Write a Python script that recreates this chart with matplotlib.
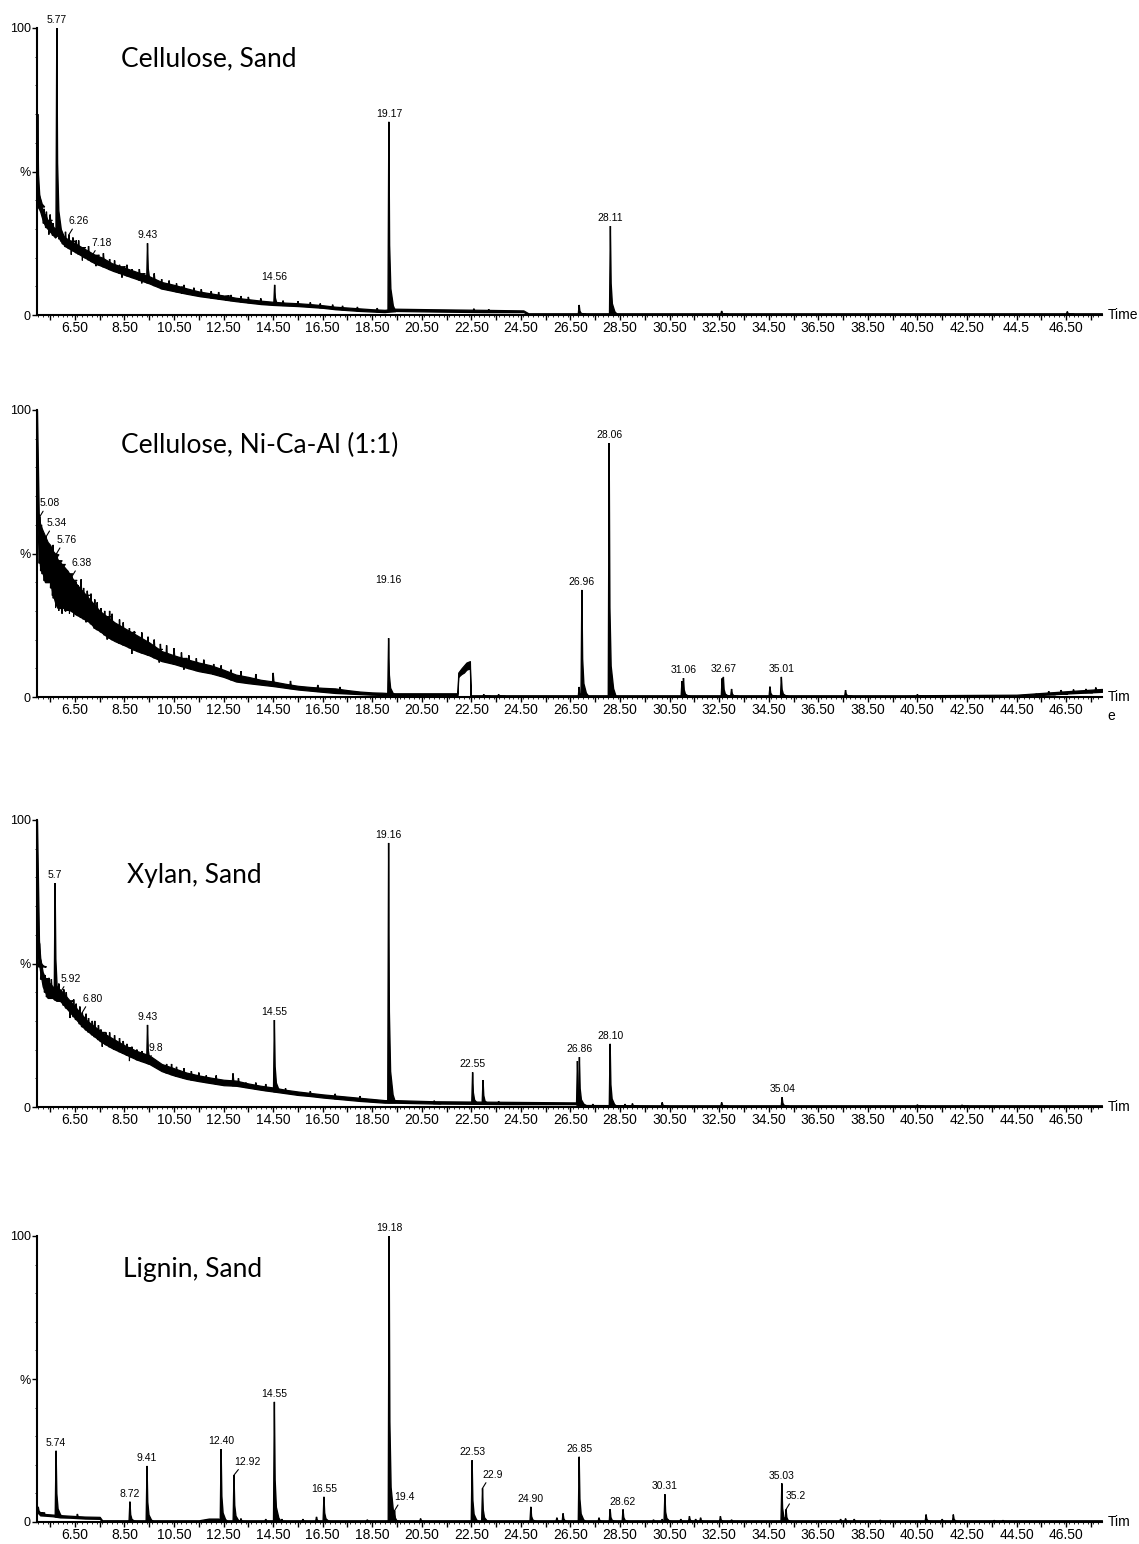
import matplotlib.pyplot as plt
import numpy as np

plt.rcParams['font.family'] = ['Liberation Sans', 'DejaVu Sans']

# ---------------- data (retention time in min, intensity in %) ----------------
XLAB = ['6.50', '8.50', '10.50', '12.50', '14.50', '16.50', '18.50', '20.50', '22.50', '24.50',
        '26.50', '28.50', '30.50', '32.50', '34.50', '36.50', '38.50', '40.50', '42.50', '44.50', '46.50']
XLAB_TOP = XLAB[:19] + ['44.5', '46.50']

# Cellulose, Sand : noise band (lower / upper) and peaks (apex time, apex height)
bt1 = [4.97, 5.05, 5.1, 5.2, 5.3, 5.4, 5.5, 5.6, 5.7, 5.82, 5.9, 6.0, 6.1, 6.3, 6.5, 6.7, 6.9, 7.1, 7.3,
       7.6, 8.0, 8.5, 9.0, 9.5, 10.0, 10.5, 11.0, 11.5, 12.0, 12.5, 13.0, 13.5, 14.0, 14.5, 15.0, 15.5,
       16.0, 16.5, 17.0, 17.5, 18.0, 18.5, 19.0, 19.4, 21.0, 23.0, 24.6, 24.8, 30.0, 40.0, 47.95]
up1 = [45, 42, 40, 36, 35, 33, 33, 31, 30, 32, 30, 28, 27, 26, 25, 24, 23, 22, 21,
       20, 18, 16.5, 15, 13.5, 11.5, 10.5, 9.3, 8.2, 7.5, 6.8, 6.0, 5.5, 5.0, 4.6, 4.3, 4.1,
       3.8, 3.4, 2.9, 2.6, 2.3, 2.0, 1.8, 2.2, 2.0, 1.8, 1.6, 0.6, 0.6, 0.6, 0.6]
lo1 = [38, 37, 36, 33, 31, 30, 29, 28, 27, 28, 26, 25, 24, 23, 22, 21, 20, 19, 18,
       17, 15.5, 14, 12.5, 11, 9.2, 8.3, 7.4, 6.6, 6.0, 5.4, 4.8, 4.3, 3.8, 3.5, 3.3, 3.1,
       2.8, 2.5, 2.0, 1.7, 1.4, 1.2, 1.0, 1.4, 1.2, 1.0, 1.0, 0.2, 0.2, 0.2, 0.2]
rt1 = [5.0, 5.25, 5.35, 5.45, 5.5, 5.62, 5.77, 5.88, 6.02, 6.12, 6.26, 6.35, 6.42, 6.55, 6.65, 6.8,
       6.9, 7.05, 7.18, 7.35, 7.45, 7.65, 7.9, 8.1, 8.3, 8.4, 8.6, 8.8, 9.1, 9.2, 9.43, 9.7, 10.0,
       10.3, 10.6, 10.8, 10.9, 11.3, 11.6, 12.0, 12.3, 12.6, 12.8, 13.2, 13.5, 14.0, 14.56, 14.9,
       15.5, 16.0, 16.4, 16.9, 17.3, 17.9, 18.7, 19.17, 22.6, 23.2, 26.85, 28.11, 32.6, 46.55]
h1 = [70, 37, 36, 28, 35, 32, 100, 31, 28, 29, 28, 21, 27, 26, 26, 19,
      23, 24, 20.5, 17, 20, 21.5, 19.5, 19, 17.5, 13, 17.5, 16, 16, 11, 25, 14.5, 12.5,
      12, 11, 7.5, 10.5, 9.5, 9, 8.3, 8, 5.0, 7, 6.6, 6.3, 5.8, 10.5, 5,
      4.8, 4.4, 4.0, 3.6, 3.2, 2.8, 2.4, 67.3, 2.2, 2.0, 3.5, 31, 1.4, 1.2]
lab1_rt = [5.77, 6.26, 7.18, 9.43, 14.56, 19.17, 28.11]
lab1_txt = ['5.77', '6.26', '7.18', '9.43', '14.56', '19.17', '28.11']

# Cellulose, Ni-Ca-Al (1:1)
bt2 = [4.97, 5.04, 5.1, 5.2, 5.3, 5.4, 5.5, 5.6, 5.7, 5.8, 5.9, 6.0, 6.1, 6.2, 6.35, 6.5, 6.7, 6.9,
       7.1, 7.3, 7.5, 7.8, 8.1, 8.5, 9.0, 9.5, 10.0, 10.5, 11.0, 11.5, 12.0, 12.5, 13.0, 13.5, 14.0,
       14.5, 15.0, 15.5, 16.0, 16.5, 17.0, 17.5, 18.0, 18.5, 18.9, 19.3, 21.9, 21.94, 21.97, 22.1,
       22.2, 22.3, 22.44, 22.47, 25.0, 30.0, 40.0, 44.5, 45.5, 46.5, 47.95]
up2 = [100, 64, 60, 58, 56, 54, 53, 51, 50, 48, 47, 46, 45, 44, 42, 40, 38, 36,
       34, 32, 30, 28, 26, 24, 21.5, 19, 16, 14.5, 13.2, 12, 11, 9.5, 7.8, 7, 6,
       5.4, 4.6, 3.9, 3.5, 3.2, 3.0, 2.4, 1.9, 1.6, 1.5, 1.3, 1.3, 1.3, 8.5, 10,
       11, 12, 12.5, 0.6, 0.6, 0.6, 0.6, 0.8, 1.4, 2.0, 2.8]
lo2 = [62, 50, 45, 43, 40, 40, 40, 36, 33, 31, 31, 32, 30, 31, 30, 29, 28, 27,
       26, 24, 23, 21, 19.5, 18, 16, 14.5, 12.5, 11.5, 10.2, 9, 8.2, 7, 5.4, 4.8, 4.3,
       3.8, 3.2, 2.6, 2.2, 1.8, 1.4, 1.2, 1.0, 0.8, 0.7, 0.7, 0.7, 0.3, 7, 8,
       8.5, 9.5, 10, 0.2, 0.2, 0.2, 0.2, 0.3, 0.7, 1.2, 1.8]
rt2 = [5.08, 5.15, 5.2, 5.28, 5.34, 5.45, 5.5, 5.55, 5.62, 5.65, 5.72, 5.76, 5.85, 5.9, 5.98, 6.05,
       6.12, 6.2, 6.28, 6.38, 6.45, 6.55, 6.62, 6.75, 6.85, 6.95, 7.0, 7.15, 7.3, 7.4, 7.55, 7.7,
       7.8, 7.9, 8.0, 8.3, 8.45, 8.7, 8.8, 8.9, 9.2, 9.45, 9.7, 9.9, 9.95, 10.2, 10.5, 10.8, 10.9,
       11.1, 11.4, 11.7, 12.1, 12.4, 12.8, 13.2, 13.8, 14.5, 15.2, 16.3, 17.2, 19.16, 23.0, 23.6,
       26.85, 26.96, 28.06, 31.0, 31.06, 32.62, 32.67, 33.0, 34.55, 35.01, 37.6, 40.5, 45.3,
       45.8, 46.3, 46.8, 47.3, 47.7]
h2 = [62.8, 60, 57, 54, 55.9, 50, 51, 52, 53, 49, 31, 50, 30, 46, 29, 45,
      44, 44, 29, 42, 28, 40, 39, 41, 38, 26, 37, 36, 34, 33, 31, 30,
      20, 30, 29, 27, 26, 24, 15, 23, 22.5, 21, 20, 12, 18.5, 18, 17, 15.5, 9.5,
      14.5, 13.5, 13, 11.5, 11, 9.5, 9, 8, 8.4, 5.6, 4.2, 3.5, 20.5, 0.9, 0.9,
      3.5, 37.3, 88.5, 5.5, 6.6, 6.5, 7.0, 2.8, 3.6, 7.0, 2.4, 0.9, 1.1,
      2.0, 2.4, 2.6, 2.8, 3.3]
lab2_rt = [5.08, 5.34, 5.76, 6.38, 19.16, 26.96, 28.06, 31.06, 32.67, 35.01]
lab2_txt = ['5.08', '5.34', '5.76', '6.38', '19.16', '26.96', '28.06', '31.06', '32.67', '35.01']

# Xylan, Sand
bt3 = [4.97, 5.05, 5.1, 5.2, 5.3, 5.4, 5.5, 5.6, 5.75, 5.9, 6.0, 6.2, 6.4, 6.6, 6.8, 7.0, 7.3, 7.6,
       8.0, 8.5, 9.0, 9.5, 10.0, 10.5, 11.0, 11.5, 12.0, 12.5, 13.0, 13.5, 14.0, 14.5, 15.0, 15.5,
       16.0, 16.5, 17.0, 17.5, 18.0, 18.5, 19.0, 19.4, 21.0, 24.0, 26.7, 26.95, 30.0, 40.0, 47.95]
up3 = [100, 58, 52, 47, 45, 44, 43, 42, 41, 41, 40, 38, 36, 34, 32, 30, 28, 26,
       24, 21.5, 19.5, 18, 15, 13.5, 12, 11, 10.2, 9.5, 9.2, 8.2, 7.4, 6.8, 6.0, 5.4,
       4.9, 4.4, 4.0, 3.6, 3.2, 2.8, 2.4, 2.4, 2.0, 1.8, 1.6, 0.7, 0.6, 0.6, 0.6]
lo3 = [55, 50, 47, 42, 40, 38, 38, 38, 37, 37, 36, 34, 32, 30, 28, 26.5, 24.5, 22.5,
       20.5, 18.5, 16.5, 15, 12.5, 11, 9.8, 9, 8.3, 7.6, 7.4, 6.7, 6.0, 5.4, 4.8, 4.2,
       3.8, 3.3, 2.9, 2.5, 2.1, 1.8, 1.5, 1.5, 1.2, 1.0, 1.0, 0.2, 0.2, 0.2, 0.2]
rt3 = [5.07, 5.15, 5.3, 5.38, 5.45, 5.55, 5.7, 5.85, 5.92, 6.05, 6.15, 6.3, 6.45, 6.55, 6.7, 6.8,
       6.95, 7.05, 7.2, 7.3, 7.45, 7.55, 7.6, 7.75, 7.9, 8.1, 8.3, 8.45, 8.6, 8.7, 8.8, 9.0, 9.2,
       9.43, 9.48, 10.2, 10.4, 10.6, 10.9, 11.2, 11.5, 11.8, 12.2, 12.88, 13.1, 13.4, 13.8, 14.2,
       14.55, 15.0, 15.5, 16.0, 17.0, 18.0, 19.16, 21.0, 22.55, 22.97, 23.6, 26.78, 26.86, 27.4,
       28.1, 28.7, 29.0, 30.2, 32.6, 35.04, 40.5, 42.3]
h3 = [57, 50, 46, 44, 45, 44.5, 78, 43, 40, 41, 40, 31, 37.5, 36, 35, 33,
      32.5, 31, 30, 30, 28.5, 27, 21, 26, 26, 25, 24, 23, 22, 16, 21, 20, 19.5,
      28.6, 16, 15, 15, 14, 13.5, 12.5, 12, 11, 11, 11.7, 10, 8.5, 8.5, 8,
      30.3, 6.5, 5.0, 5.5, 4.6, 3.8, 92, 2.2, 12.1, 9.4, 2.0, 16, 17.4, 1.0,
      22, 1.0, 1.2, 1.6, 1.6, 3.4, 0.8, 0.7]
lab3_rt = [5.7, 5.92, 6.8, 9.43, 9.48, 14.55, 19.16, 22.55, 26.86, 28.1, 35.04]
lab3_txt = ['5.7', '5.92', '6.80', '9.43', '9.8', '14.55', '19.16', '22.55', '26.86', '28.10', '35.04']

# Lignin, Sand
bt4 = [4.97, 5.1, 5.3, 5.6, 5.9, 6.3, 6.9, 7.5, 7.6, 11.5, 11.9, 12.3, 12.35, 47.95]
up4 = [4.5, 3.0, 2.8, 2.6, 2.4, 2.2, 1.9, 1.8, 0.6, 0.6, 1.2, 1.2, 0.6, 0.6]
lo4 = [3.5, 2.3, 2.2, 2.0, 1.6, 1.5, 1.2, 1.1, 0.1, 0.1, 0.4, 0.4, 0.1, 0.1]
rt4 = [5.02, 5.74, 6.6, 8.72, 9.41, 12.40, 12.92, 13.2, 14.2, 14.55, 14.85, 15.7, 16.25, 16.55, 18.3,
       19.18, 19.4, 20.45, 22.53, 22.95, 24.9, 25.95, 26.2, 26.85, 27.65, 28.1, 28.62, 29.85, 30.2,
       30.31, 30.95, 31.3, 31.55, 31.75, 32.55, 33.0, 35.03, 35.2, 37.4, 37.6, 37.95, 39.0, 40.85,
       41.5, 41.95, 43.6, 43.95]
h4 = [5.3, 24.9, 2.8, 7.1, 19.6, 25.5, 16.4, 1.2, 1.0, 42, 1.0, 1.0, 1.8, 8.8, 0.8,
      100, 4.0, 1.2, 21.6, 11.8, 5.3, 1.5, 3.0, 22.8, 1.5, 4.5, 4.4, 0.8, 1.0,
      9.7, 1.0, 2.0, 1.0, 1.5, 2.0, 0.8, 13.5, 4.4, 1.0, 1.2, 1.0, 0.7, 2.6,
      1.0, 2.6, 0.6, 0.6]
lab4_rt = [5.74, 8.72, 9.41, 12.40, 12.92, 14.55, 16.55, 19.18, 19.4, 22.53, 22.95, 24.9, 26.85,
           28.62, 30.31, 35.03, 35.2]
lab4_txt = ['5.74', '8.72', '9.41', '12.40', '12.92', '14.55', '16.55', '19.18', '19.4', '22.53',
            '22.9', '24.90', '26.85', '28.62', '30.31', '35.03', '35.2']

panels = [
    dict(title='Cellulose, Sand', bt=bt1, up=up1, lo=lo1, rt=rt1, h=h1, lrt=lab1_rt, ltxt=lab1_txt,
         xlab=XLAB_TOP, time='Time'),
    dict(title='Cellulose, Ni-Ca-Al (1:1)', bt=bt2, up=up2, lo=lo2, rt=rt2, h=h2, lrt=lab2_rt,
         ltxt=lab2_txt, xlab=XLAB, time='Tim'),
    dict(title='Xylan, Sand', bt=bt3, up=up3, lo=lo3, rt=rt3, h=h3, lrt=lab3_rt, ltxt=lab3_txt,
         xlab=XLAB, time='Tim'),
    dict(title='Lignin, Sand', bt=bt4, up=up4, lo=lo4, rt=rt4, h=h4, lrt=lab4_rt, ltxt=lab4_txt,
         xlab=XLAB, time='Tim'),
]

# ---------------- layout / style ----------------
W, H = 1139, 1544
X0, X1 = 37, 1102
boxes = [(28, 315), (410, 697), (820, 1107), (1236, 1522)]
title_pos = [(121, 66), (121, 453), (127, 883), (123, 1277)]
leaders = [{'6.26', '7.18'}, {'5.08', '5.34', '5.76', '6.38'}, {'5.92', '6.80', '9.8'},
           {'12.92', '19.4', '22.9', '35.2'}]
raised = [{}, {'19.16': 39}, {}, {}]

# peak outline, relative to apex (time offset, fraction of height above baseline)
DT = np.array([-0.035, 0, 0.03, 0.08, 0.18, 0.28])
FR = np.array([0, 1, 0.35, 0.12, 0.03, 0])

fig = plt.figure(figsize=(W / 100, H / 100), dpi=100)

for i, p in enumerate(panels):
    ytop, ybot = boxes[i]
    ax = fig.add_axes([X0 / W, 1 - ybot / H, (X1 - X0) / W, (ybot - ytop) / H])
    bt = np.array(p['bt'])
    lo = np.array(p['lo'])
    up = np.array(p['up'])
    ax.fill_between(bt, lo, up, color='k', lw=0.9)
    for rt, h in zip(p['rt'], p['h']):
        # spikes start from the top of the band, dips from its bottom
        base = np.interp(rt, bt, up) if h < np.interp(rt, bt, lo) else np.interp(rt, bt, lo)
        if h < np.interp(rt, bt, lo):
            ax.fill(rt + DT * 0.5, base + FR * (h - base), color='k', lw=0.8)
        else:
            ax.fill(rt + DT, base + FR * (h - base), color='k', lw=1.0)

    rts = np.array(p['rt'])
    for rt, txt in zip(p['lrt'], p['ltxt']):
        h = p['h'][int(np.argmin(np.abs(rts - rt)))]
        if txt in leaders[i]:
            ax.annotate(txt, xy=(rt, h), xytext=(0, 6), textcoords='offset points',
                        ha='left', va='bottom', fontsize=7.5,
                        arrowprops=dict(arrowstyle='-', lw=0.8, color='k', relpos=(0.25, 0),
                                        shrinkA=0, shrinkB=0))
        elif txt in raised[i]:
            ax.text(rt, raised[i][txt], txt, ha='center', va='bottom', fontsize=7.5)
        else:
            ax.annotate(txt, xy=(rt, h), xytext=(0, 2), textcoords='offset points',
                        ha='center', va='bottom', fontsize=7.5, annotation_clip=False)

    ax.set_xlim(4.97, 47.95)
    ax.set_ylim(0, 100)
    for s in ['top', 'right']:
        ax.spines[s].set_visible(False)
    for s in ['left', 'bottom']:
        ax.spines[s].set_linewidth(1.5)

    major = np.arange(5.5, 47.6, 1.0)
    ax.set_xticks(major)
    lab_map = {round(float(t), 2): t for t in p['xlab']}
    ax.set_xticklabels([lab_map.get(round(m, 2), '') for m in major])
    ax.set_xticks(np.arange(5.0, 47.95, 0.2), minor=True)
    ax.set_yticks([0, 50, 100])
    ax.set_yticklabels(['0', '%', '100'])
    ax.set_yticks(np.arange(10, 100, 10), minor=True)
    ax.tick_params(axis='x', which='major', length=3.5, width=1, labelsize=10, pad=1)
    ax.tick_params(axis='y', which='major', length=3.5, width=1, labelsize=9, pad=1)
    ax.tick_params(axis='both', which='minor', length=1.6, width=0.6)

    ax.text(1.005, 0, p['time'], transform=ax.transAxes, ha='left', va='center', fontsize=10)
    if i == 1:
        ax.annotate('e', xy=(1.005, 0), xycoords='axes fraction', xytext=(0, -14),
                    textcoords='offset points', ha='left', va='center', fontsize=10)

    tx, ty = title_pos[i]
    fig.text(tx / W, 1 - ty / H, p['title'], fontsize=19, family=['Lato', 'DejaVu Sans'],
             ha='left', va='baseline')

fig.savefig('out.png', dpi=100)
